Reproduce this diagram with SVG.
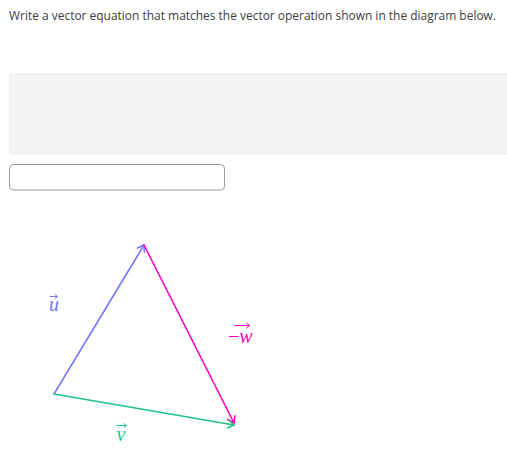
<svg xmlns="http://www.w3.org/2000/svg" width="507" height="467" viewBox="0 0 507 467">
<style>
.q{font-family:"Open Sans","Liberation Sans",sans-serif;font-size:11.9px;font-weight:500;fill:#3b3e40}
.lbl{font-family:"Liberation Serif","DejaVu Serif",serif;font-style:italic;font-size:20px}
.vec{fill:none;stroke-width:1.6;stroke-linecap:round;stroke-linejoin:round}
.acc{fill:none;stroke-width:1;stroke-linecap:round;stroke-linejoin:round}
</style>
<defs>
<marker id="ahB" viewBox="-10 -6 12 12" markerWidth="12" markerHeight="12" refX="0" refY="0" orient="auto" markerUnits="userSpaceOnUse"><path d="M-6,-4 L0,0 L-6,4" fill="none" stroke="#7777ff" stroke-width="1.6" stroke-linecap="round" stroke-linejoin="round"/></marker>
<marker id="ahP" viewBox="-10 -6 12 12" markerWidth="12" markerHeight="12" refX="0" refY="0" orient="auto" markerUnits="userSpaceOnUse"><path d="M-6,-4 L0,0 L-6,4" fill="none" stroke="#ff00c0" stroke-width="1.6" stroke-linecap="round" stroke-linejoin="round"/></marker>
<marker id="ahG" viewBox="-10 -6 12 12" markerWidth="12" markerHeight="12" refX="0" refY="0" orient="auto" markerUnits="userSpaceOnUse"><path d="M-6,-4 L0,0 L-6,4" fill="none" stroke="#1fc480" stroke-width="1.6" stroke-linecap="round" stroke-linejoin="round"/></marker>
</defs>
<rect width="507" height="467" fill="#ffffff"/>
<text class="q" x="9" y="20" textLength="487" lengthAdjust="spacingAndGlyphs">Write a vector equation that matches the vector operation shown in the diagram below.</text>
<rect x="9" y="73" width="504" height="82" rx="4" fill="#f3f3f3"/>
<rect x="9.5" y="164.5" width="215" height="25.5" rx="4" fill="#ffffff" stroke="#9a9a9a" stroke-width="1"/>
<g id="connectors">
<line id="vec-u" class="vec" x1="54" y1="394" x2="144" y2="245" stroke="#7777ff" marker-end="url(#ahB)"/>
<line id="vec-w" class="vec" x1="144" y1="245" x2="234" y2="423" stroke="#ff00c0" marker-end="url(#ahP)"/>
<line id="vec-v" class="vec" x1="54" y1="394" x2="234" y2="425" stroke="#1fc480" marker-end="url(#ahG)"/>
</g>
<g id="label-u">
<text class="lbl" x="54" y="311" text-anchor="middle" fill="#7777ff">u</text>
<path class="acc" d="M50,296.5 H57 M55,294.5 L57.5,296.5 L55,298.5" stroke="#7777ff"/>
</g>
<g id="label-w">
<text class="lbl" x="228" y="343" fill="#ff00c0"><tspan font-style="normal">−</tspan>w</text>
<path class="acc" d="M235,325.5 H249 M246.5,323 L249.5,325.5 L246.5,328" stroke="#ff00c0"/>
</g>
<g id="label-v">
<text class="lbl" x="121" y="441" text-anchor="middle" fill="#1fc480">v</text>
<path class="acc" d="M117,425.5 H126 M124,423.5 L126.5,425.5 L124,427.5" stroke="#1fc480"/>
</g>
</svg>
